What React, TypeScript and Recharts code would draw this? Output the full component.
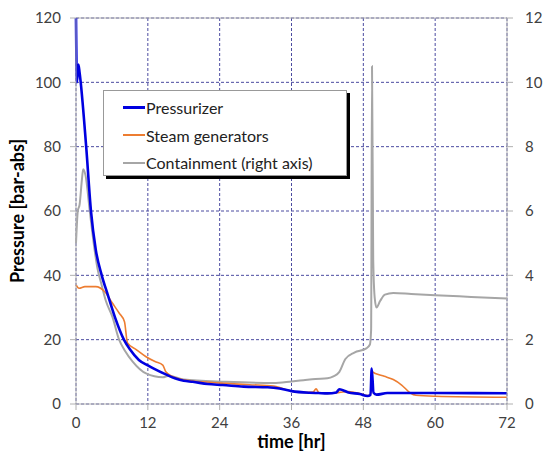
import React from "react";
import {
  LineChart,
  Line,
  XAxis,
  YAxis,
  CartesianGrid,
  ReferenceLine,
} from "recharts";

// time [hr] and pressure [bar-abs]
const prTime = [0, 0.15, 0.4, 0.6, 1.7, 2.5, 3.3, 4.3, 5.3, 6.5, 8, 9, 10.5, 12, 13, 15, 16.5, 18, 19.5, 22, 24.5, 28, 32, 34, 36, 39, 40.5, 42, 43.5, 44, 44.6, 45.5, 47.4, 48.7, 49.2, 49.4, 49.7, 50.2, 52, 56, 60, 72];
const prPressure = [120, 100, 105.5, 103, 80, 60, 48, 40, 34, 27, 20, 17, 13.7, 12, 11, 9.2, 8, 7.2, 6.9, 6.2, 5.9, 5.4, 5.2, 4.8, 4.0, 3.5, 3.4, 3.3, 3.6, 4.6, 4.3, 3.6, 3.1, 2.5, 2.8, 11, 3.5, 2.9, 3.4, 3.4, 3.4, 3.35];

const sgTime = [0, 0.5, 1.5, 3.3, 4.8, 6.1, 7.2, 8.1, 8.6, 10, 11.7, 13.2, 14.5, 15, 16.2, 18, 21, 25, 29, 33, 34.5, 36, 38, 39.6, 40.1, 40.6, 42, 44, 45.5, 47.5, 48.7, 49.2, 49.4, 50, 51.5, 53, 54.4, 55.8, 56.8, 60, 72];
const sgPressure = [37, 36, 36.5, 36.5, 34.9, 31.3, 28.3, 25.6, 19, 17, 14.7, 13.2, 12.1, 10, 8.5, 7.5, 6.9, 6.4, 6, 5.6, 4.8, 4.0, 3.6, 3.7, 4.7, 3.5, 3.3, 3.6, 3.9, 3.2, 2.6, 2.9, 10, 9.5, 8.6, 7.6, 5.9, 3.5, 2.7, 2.4, 2.1];

// containment, right axis
const ctTime = [0, 0.3, 0.6, 1.0, 1.2, 1.6, 2.3, 3.1, 3.6, 4.2, 5, 6.1, 7.2, 8.2, 9.5, 11.7, 14.5, 15.5, 18, 25, 33, 36, 38, 40, 42, 43, 44, 45, 46.5, 48.5, 49.1, 49.3, 49.45, 49.65, 49.9, 50.2, 50.8, 51.6, 53, 56, 60, 66, 72];
const ctPressure = [5.0, 6.0, 6.2, 7.0, 7.3, 7.1, 6.0, 4.8, 4.2, 3.76, 3.2, 2.7, 2.0, 1.65, 1.31, 0.95, 0.83, 0.88, 0.76, 0.69, 0.65, 0.7, 0.74, 0.78, 0.8, 0.86, 1.0, 1.4, 1.6, 1.73, 1.85, 2.3, 10.5, 4.5, 3.3, 3.0, 3.2, 3.4, 3.45, 3.42, 3.38, 3.33, 3.28];

const timeTicks = [0, 12, 24, 36, 48, 60, 72];
const leftTicks = [0, 20, 40, 60, 80, 100, 120];
const rightTicks = [0, 2, 4, 6, 8, 10, 12];

const toPoints = (t: number[], v: number[]) => t.map((x, i) => ({ t: x, v: v[i] }));

const pressurizer = toPoints(prTime, prPressure);
const steamGen = toPoints(sgTime, sgPressure);
const containment = toPoints(ctTime, ctPressure);

const tickStyle = { fill: "#404040", fontSize: 15, fontFamily: "Lato" };
const axisColor = "#b0b0b0";

const legendItems = [
  { name: "Pressurizer", color: "#0000e0", width: 3 },
  { name: "Steam generators", color: "#ed7d31", width: 2 },
  { name: "Containment (right axis)", color: "#a6a6a6", width: 2 },
];

export default function App() {
  return (
    <div style={{ position: "absolute", left: 0, top: 0, width: 544, height: 457, background: "#fff" }}>
      <LineChart width={544} height={457} margin={{ top: 18, right: 0, left: 0, bottom: 0 }}>
        <CartesianGrid yAxisId="left" stroke="#4b4ba0" strokeDasharray="3 2" strokeWidth={1} />
        <XAxis
          dataKey="t"
          type="number"
          domain={[0, 72]}
          ticks={timeTicks}
          height={53}
          stroke={axisColor}
          tick={tickStyle}
          tickMargin={7}
          label={{
            value: "time [hr]",
            position: "insideBottom",
            offset: 9,
            style: { fill: "#000", fontSize: 18, fontWeight: 700, fontFamily: "Lato" },
          }}
        />
        <YAxis
          yAxisId="left"
          domain={[0, 120]}
          ticks={leftTicks}
          width={76}
          stroke={axisColor}
          tick={tickStyle}
          tickMargin={9}
          label={{
            value: "Pressure [bar-abs]",
            angle: -90,
            position: "insideLeft",
            offset: 18,
            style: { fill: "#000", fontSize: 18, fontWeight: 700, fontFamily: "Lato", textAnchor: "middle" },
          }}
        />
        <YAxis
          yAxisId="right"
          orientation="right"
          domain={[0, 12]}
          ticks={rightTicks}
          width={37}
          stroke={axisColor}
          tick={tickStyle}
          tickMargin={12}
        />
        <ReferenceLine yAxisId="left" y={120} stroke={axisColor} />
        <Line
          yAxisId="right"
          data={containment}
          dataKey="v"
          type="monotone"
          stroke="#a6a6a6"
          strokeWidth={2}
          dot={false}
          isAnimationActive={false}
        />
        <Line
          yAxisId="left"
          data={steamGen}
          dataKey="v"
          type="monotone"
          stroke="#ed7d31"
          strokeWidth={1.6}
          dot={false}
          isAnimationActive={false}
        />
        <Line
          yAxisId="left"
          data={pressurizer}
          dataKey="v"
          type="monotone"
          stroke="#0000e0"
          strokeWidth={2.6}
          dot={false}
          isAnimationActive={false}
        />
      </LineChart>
      <div
        style={{
          position: "absolute",
          left: 103,
          top: 90,
          width: 242,
          height: 81,
          background: "#fff",
          border: "1px solid #999",
          boxShadow: "3px 3px 0 #000",
          fontFamily: "Lato",
          fontSize: 16,
          color: "#222",
          paddingTop: 3,
          boxSizing: "content-box",
        }}
      >
        {legendItems.map((item) => (
          <div key={item.name} style={{ display: "flex", alignItems: "center", height: 27.5 }}>
            <span
              style={{
                display: "inline-block",
                marginLeft: 19,
                width: 22,
                height: item.width,
                background: item.color,
              }}
            />
            <span style={{ marginLeft: 1 }}>{item.name}</span>
          </div>
        ))}
      </div>
    </div>
  );
}
